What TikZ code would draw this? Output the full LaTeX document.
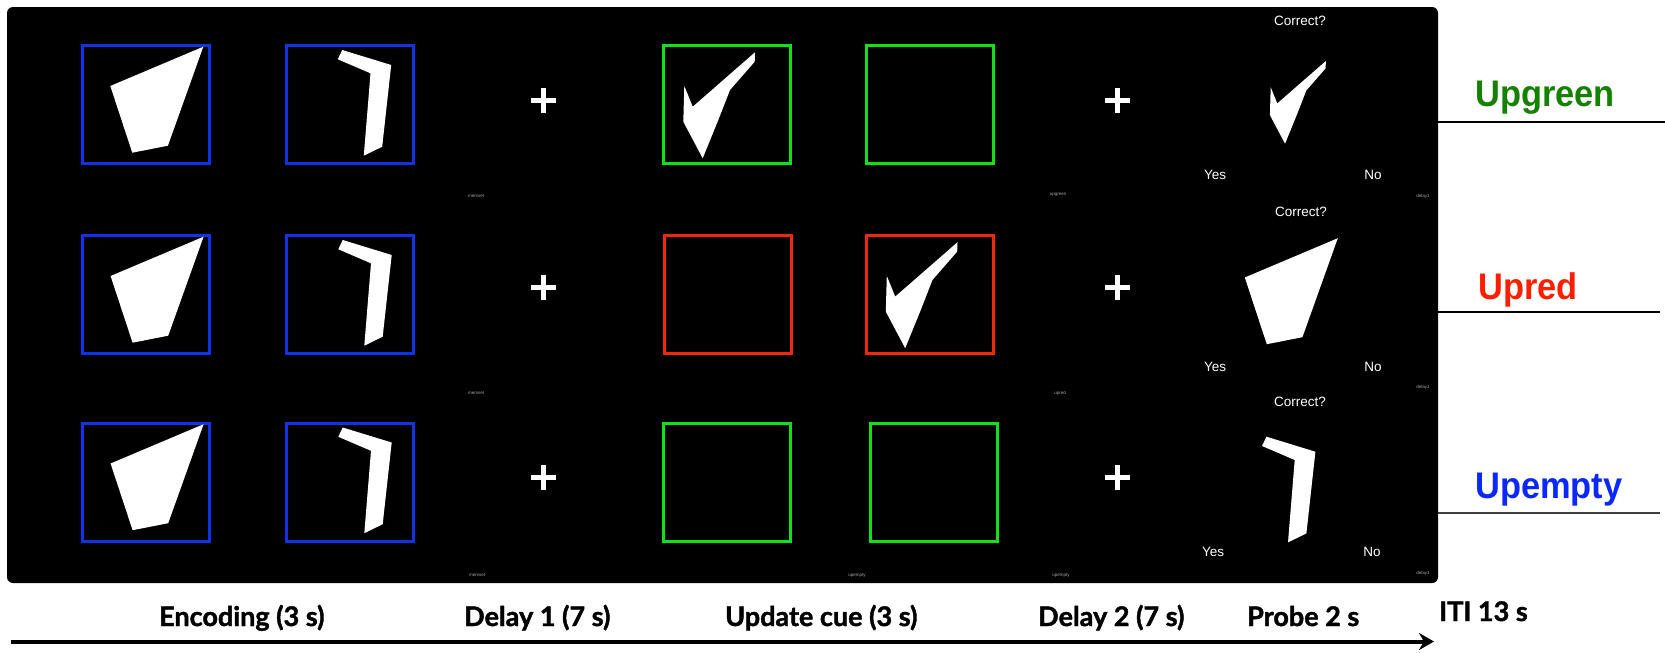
\documentclass[tikz,border=0pt]{standalone}
\usepackage{fontspec}
\setmainfont{Liberation Sans}
\newfontfamily\labfont[FakeStretch=0.93]{Liberation Sans}
\newfontfamily\timefont[BoldFeatures={FakeBold=1.5}]{Lato}
\usetikzlibrary{arrows.meta}
\definecolor{encblue}{RGB}{15,50,235}
\definecolor{cuegreen}{RGB}{20,225,20}
\definecolor{cuered}{RGB}{240,40,10}
\definecolor{labgreen}{RGB}{20,130,0}
\definecolor{labred}{RGB}{255,30,0}
\definecolor{labblue}{RGB}{10,40,250}
\begin{document}
\begin{tikzpicture}[x=1pt,y=-1pt,
  panel/.style={fill=black,rounded corners=6pt,inner sep=0pt,minimum width=1431pt,minimum height=576pt},
  framebox/.style={draw=#1,line width=3pt,minimum width=127pt,minimum height=118pt,inner sep=0pt},
  probetxt/.style={text=white,font=\fontsize{13.5}{15}\selectfont,inner sep=0pt},
  tinytxt/.style={text=gray!70,font=\fontsize{4.5}{5}\selectfont,inner sep=0pt},
  condlab/.style={anchor=base west,inner sep=0pt,font=\labfont\bfseries\fontsize{37}{40}\selectfont},
  phase/.style={anchor=base west,inner sep=0pt,font=\timefont\bfseries\fontsize{27}{30}\selectfont},
  sepline/.style={line width=2pt,draw=#1},
  timearrow/.style={line width=4pt,-{Stealth[length=15pt,width=17pt]}},
  quadpic/.pic={\fill[white] (-35.7,-18.5) -- (57.3,-57.8) -- (21.9,41.2) -- (-13.7,48.2) -- cycle;},
  barpic/.pic={\fill[white] (-11.7,-45.2) -- (-7.3,-54.5) -- (41.7,-39.5) -- (32.7,42.2) -- (14.3,51.2) -- (21,-31.2) -- cycle;},
  checkpic/.pic={\fill[white] (-42.7,-18.6) -- (-34.3,2.1) -- (28,-52.3) -- (27.7,-42.9) -- (3,-14.6) -- (-8.7,15.4) -- (-24.3,53.7) -- (-43.7,17.1) -- cycle;},
  crosspic/.pic={\draw[white,line width=5pt] (-12.5,0) -- (12.5,0) (0,-12.5) -- (0,12.5);}
]
\useasboundingbox (0,0) rectangle (1665,653);
\node[panel] (panel) at (722.5,295) {};

% row 1
\node[framebox=encblue] (e11) at (146,104.5) {};
\node[framebox=encblue] (e12) at (349.5,104.5) {};
\pic at (e11.center) {quadpic};
\pic at (e12.center) {barpic};
\coordinate (x11) at (543.7,100.9);
\pic at (x11) {crosspic};
\node[framebox=cuegreen] (u11) at (727,104.6) {};
\node[framebox=cuegreen] (u12) at (930.3,104.6) {};
\pic at (u11.center) {checkpic};
\coordinate (x12) at (1117,100.9);
\pic at (x12) {crosspic};
\coordinate (p1) at (1304,101.8);
\pic[scale=0.78] at (p1) {checkpic};
\node[probetxt] (c1) at (1300,21) {Correct?};
\node[probetxt] (y1) at (1215,175) {Yes};
\node[probetxt] (n1) at (1373,175) {No};
\node[tinytxt] (s11) at (476,196) {memset};
\node[tinytxt] (s12) at (1058,195) {upgreen};
\node[tinytxt] (s13) at (1423,196) {delay1};

% row 2
\node[framebox=encblue] (e21) at (146.3,294.5) {};
\node[framebox=encblue] (e22) at (350,294.5) {};
\pic at (e21.center) {quadpic};
\pic at (e22.center) {barpic};
\coordinate (x21) at (543.7,287.8);
\pic at (x21) {crosspic};
\node[framebox=cuered] (u21) at (728.4,294) {};
\node[framebox=cuered] (u22) at (929.5,294.5) {};
\pic at (u22.center) {checkpic};
\coordinate (x22) at (1117,287.8);
\pic at (x22) {crosspic};
\coordinate (p2) at (1280.5,296);
\pic at (p2) {quadpic};
\node[probetxt] (c2) at (1301,212) {Correct?};
\node[probetxt] (y2) at (1215,367) {Yes};
\node[probetxt] (n2) at (1373,367) {No};
\node[tinytxt] (s21) at (476,393) {memset};
\node[tinytxt] (s22) at (1060,393) {upred};
\node[tinytxt] (s23) at (1423,387) {delay1};

% row 3
\node[framebox=encblue] (e31) at (146.3,482) {};
\node[framebox=encblue] (e32) at (350,482) {};
\pic at (e31.center) {quadpic};
\pic at (e32.center) {barpic};
\coordinate (x31) at (543.7,477.9);
\pic at (x31) {crosspic};
\node[framebox=cuegreen] (u31) at (727.4,482) {};
\node[framebox=cuegreen] (u32) at (933.8,482) {};
\coordinate (x32) at (1117,477.9);
\pic at (x32) {crosspic};
\coordinate (p3) at (1273.7,491.2);
\pic at (p3) {barpic};
\node[probetxt] (c3) at (1300,402) {Correct?};
\node[probetxt] (y3) at (1213,552) {Yes};
\node[probetxt] (n3) at (1372,552) {No};
\node[tinytxt] (s31) at (477,575) {memset};
\node[tinytxt] (s32) at (857,576) {upempty};
\node[tinytxt] (s33) at (1061,576) {upempty};
\node[tinytxt] (s34) at (1423,573) {delay1};

% condition labels
\node[condlab,text=labgreen] (lg) at (1475,106.7) {Upgreen};
\node[condlab,text=labred] (lr) at (1478,299.3) {Upred};
\node[condlab,text=labblue] (lb) at (1475,498.3) {Upempty};
\coordinate (g0) at (1438,121.7); \coordinate (g1) at (1665,121.7);
\coordinate (r0) at (1438,311.7); \coordinate (r1) at (1660,311.7);
\coordinate (b0) at (1438,512.7); \coordinate (b1) at (1660,512.7);
\draw[sepline=black] (g0) -- (g1);
\draw[sepline=black] (r0) -- (r1);
\draw[sepline=black!75] (b0) -- (b1);

% timeline
\node[phase] (t1) at (159,626) {Encoding (3 s)};
\node[phase] (t2) at (464,626) {Delay 1 (7 s)};
\node[phase] (t3) at (725,626) {Update cue (3 s)};
\node[phase] (t4) at (1038,626) {Delay 2 (7 s)};
\node[phase] (t5) at (1247,626) {Probe 2 s};
\node[phase] (t6) at (1439,621) {ITI 13 s};
\coordinate (a0) at (10.6,641.5);
\coordinate (a1) at (1434,641.5);
\draw[timearrow] (a0) -- (a1);
\end{tikzpicture}
\end{document}
